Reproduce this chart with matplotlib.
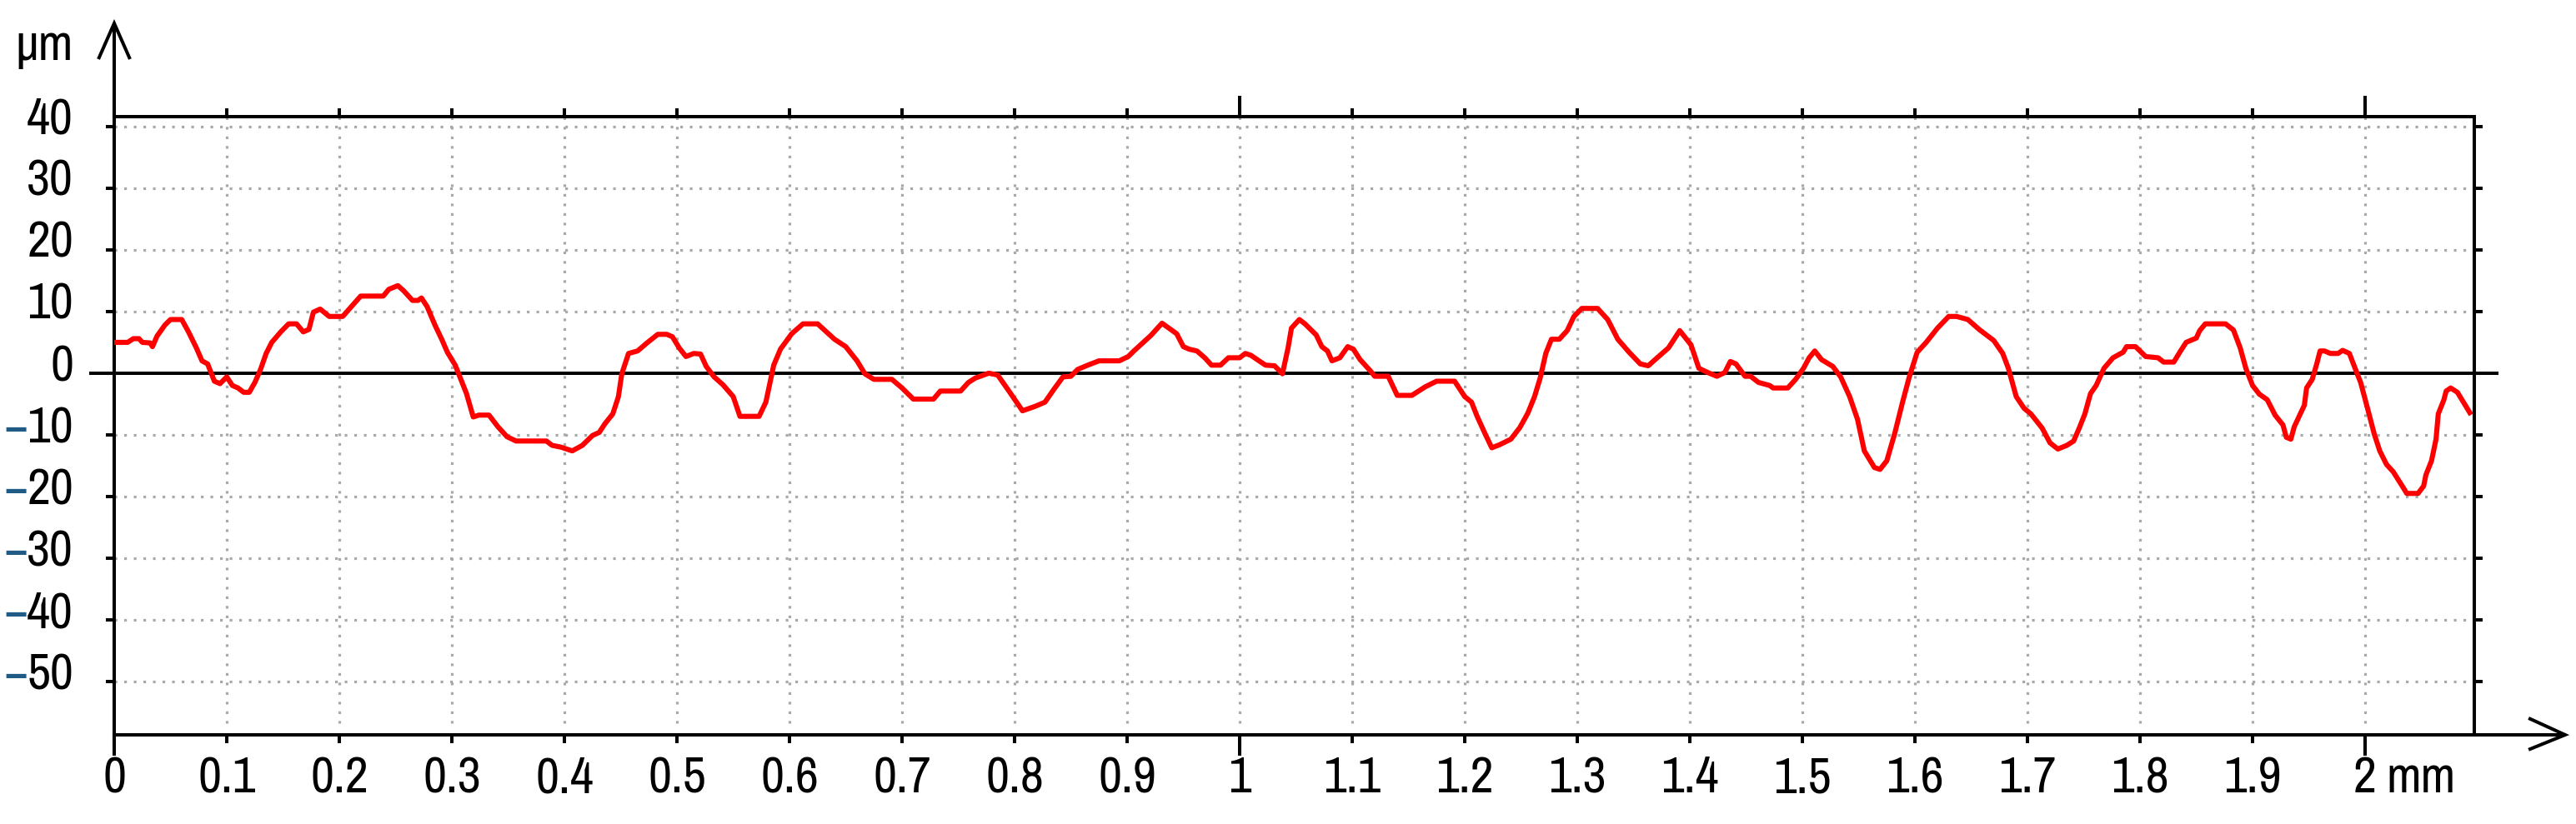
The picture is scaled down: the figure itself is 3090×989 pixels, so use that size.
import matplotlib
matplotlib.use("Agg")
import matplotlib.pyplot as plt
from matplotlib import font_manager
from matplotlib.transforms import blended_transform_factory

# surface profile (x in mm, z in µm)
x_mm = [0.000, 0.012, 0.017, 0.022, 0.025, 0.032, 0.034, 0.038, 0.045, 0.050,
        0.060, 0.066, 0.073, 0.078, 0.083, 0.089, 0.094, 0.100, 0.105, 0.110,
        0.115, 0.120, 0.125, 0.130, 0.135, 0.140, 0.148, 0.155, 0.162, 0.168,
        0.173, 0.177, 0.183, 0.191, 0.203, 0.219, 0.239, 0.244, 0.252, 0.257,
        0.265, 0.270, 0.273, 0.278, 0.285, 0.291, 0.296, 0.303, 0.308, 0.313,
        0.319, 0.324, 0.333, 0.341, 0.349, 0.357, 0.384, 0.389, 0.397, 0.407,
        0.416, 0.425, 0.431, 0.436, 0.443, 0.448, 0.451, 0.457, 0.465, 0.474,
        0.483, 0.491, 0.496, 0.502, 0.508, 0.515, 0.521, 0.526, 0.533, 0.541,
        0.550, 0.556, 0.573, 0.579, 0.586, 0.592, 0.602, 0.612, 0.625, 0.640,
        0.650, 0.660, 0.667, 0.675, 0.691, 0.700, 0.710, 0.728, 0.734, 0.752,
        0.759, 0.765, 0.777, 0.785, 0.795, 0.807, 0.818, 0.827, 0.835, 0.843,
        0.850, 0.856, 0.865, 0.875, 0.893, 0.901, 0.906, 0.921, 0.931, 0.944,
        0.950, 0.955, 0.962, 0.969, 0.975, 0.983, 0.990, 1.000, 1.005, 1.010,
        1.018, 1.023, 1.031, 1.038, 1.043, 1.046, 1.053, 1.058, 1.068, 1.073,
        1.078, 1.082, 1.089, 1.096, 1.101, 1.107, 1.116, 1.120, 1.132, 1.140,
        1.153, 1.165, 1.175, 1.191, 1.200, 1.206, 1.211, 1.218, 1.224, 1.231,
        1.241, 1.249, 1.256, 1.262, 1.267, 1.272, 1.277, 1.284, 1.291, 1.297,
        1.304, 1.318, 1.327, 1.336, 1.346, 1.356, 1.363, 1.371, 1.381, 1.391,
        1.401, 1.408, 1.416, 1.424, 1.431, 1.436, 1.441, 1.449, 1.454, 1.461,
        1.471, 1.474, 1.487, 1.494, 1.501, 1.506, 1.511, 1.517, 1.527, 1.534,
        1.542, 1.549, 1.555, 1.564, 1.569, 1.575, 1.582, 1.589, 1.595, 1.602,
        1.610, 1.620, 1.630, 1.637, 1.647, 1.657, 1.670, 1.678, 1.683, 1.690,
        1.697, 1.703, 1.713, 1.720, 1.727, 1.735, 1.741, 1.746, 1.751, 1.756,
        1.761, 1.768, 1.776, 1.785, 1.788, 1.796, 1.805, 1.816, 1.821, 1.830,
        1.836, 1.841, 1.850, 1.853, 1.858, 1.876, 1.883, 1.889, 1.894, 1.900,
        1.906, 1.913, 1.920, 1.927, 1.930, 1.934, 1.937, 1.946, 1.948, 1.953,
        1.957, 1.960, 1.964, 1.969, 1.976, 1.980, 1.986, 1.990, 1.996, 2.002,
        2.008, 2.013, 2.019, 2.025, 2.034, 2.037, 2.047, 2.052, 2.054, 2.059,
        2.063, 2.065, 2.070, 2.072, 2.076, 2.082, 2.086, 2.093]
z_um = [5.0, 5.0, 5.6, 5.6, 5.0, 4.9, 4.3, 6.0, 7.8, 8.7,
        8.7, 6.7, 4.1, 2.0, 1.5, -1.3, -1.7, -0.6, -2.0, -2.4,
        -3.1, -3.1, -1.5, 0.6, 3.2, 5.0, 6.7, 8.0, 8.0, 6.7,
        7.1, 9.9, 10.4, 9.2, 9.2, 12.5, 12.5, 13.6, 14.2, 13.4,
        11.8, 11.8, 12.2, 10.8, 7.8, 5.5, 3.4, 1.3, -1.0, -3.3,
        -7.1, -6.8, -6.8, -8.7, -10.3, -11.0, -11.0, -11.7, -12.0, -12.6,
        -11.7, -10.1, -9.6, -8.2, -6.6, -3.8, -0.1, 3.2, 3.6, 5.0,
        6.3, 6.3, 5.9, 4.1, 2.7, 3.2, 3.1, 1.1, -0.6, -1.9,
        -3.8, -7.0, -7.0, -4.7, 1.3, 3.9, 6.4, 8.0, 8.0, 5.5,
        4.3, 2.0, -0.1, -1.0, -1.0, -2.4, -4.2, -4.2, -2.9, -2.9,
        -1.5, -0.8, 0.0, -0.3, -2.9, -6.1, -5.4, -4.7, -2.6, -0.6,
        -0.5, 0.6, 1.3, 2.0, 2.0, 2.7, 3.6, 6.1, 8.1, 6.4,
        4.3, 3.9, 3.6, 2.5, 1.3, 1.3, 2.5, 2.5, 3.2, 2.9,
        1.9, 1.3, 1.2, -0.1, 4.1, 7.3, 8.7, 8.0, 6.2, 4.3,
        3.6, 2.0, 2.5, 4.3, 3.9, 2.2, 0.4, -0.5, -0.5, -3.6,
        -3.6, -2.2, -1.3, -1.3, -3.8, -4.7, -7.0, -9.8, -12.1, -11.6,
        -10.7, -8.8, -6.5, -3.8, -0.8, 3.2, 5.5, 5.5, 6.9, 9.2,
        10.5, 10.5, 8.7, 5.5, 3.4, 1.5, 1.2, 2.5, 4.1, 6.9,
        4.6, 0.8, 0.1, -0.5, 0.1, 1.9, 1.5, -0.5, -0.5, -1.5,
        -2.0, -2.4, -2.4, -1.0, 0.8, 2.5, 3.6, 2.2, 1.1, -0.6,
        -3.8, -7.5, -12.6, -15.3, -15.6, -14.2, -9.8, -4.7, -0.6, 3.4,
        5.0, 7.3, 9.2, 9.2, 8.7, 7.1, 5.3, 3.2, 0.8, -3.8,
        -5.7, -6.6, -8.9, -11.3, -12.3, -11.7, -11.0, -8.9, -6.6, -3.3,
        -2.0, 0.8, 2.5, 3.4, 4.3, 4.3, 2.7, 2.5, 1.8, 1.8,
        3.6, 5.0, 5.7, 6.9, 8.0, 8.0, 7.0, 4.1, 0.8, -2.0,
        -3.4, -4.3, -6.8, -8.4, -10.4, -10.7, -8.7, -5.2, -2.4, -1.0,
        1.5, 3.6, 3.6, 3.2, 3.2, 3.7, 3.2, 1.3, -1.5, -5.6,
        -9.8, -12.6, -14.8, -16.0, -18.6, -19.5, -19.5, -18.3, -16.5, -14.2,
        -10.7, -6.6, -4.3, -2.9, -2.4, -3.1, -4.3, -6.4]

x_ticks = [0, 0.1, 0.2, 0.3, 0.4, 0.5, 0.6, 0.7, 0.8, 0.9, 1.0,
           1.1, 1.2, 1.3, 1.4, 1.5, 1.6, 1.7, 1.8, 1.9, 2.0]
x_labels = ['0', '0.1', '0.2', '0.3', '0.4', '0.5', '0.6', '0.7', '0.8', '0.9', '1',
            '1.1', '1.2', '1.3', '1.4', '1.5', '1.6', '1.7', '1.8', '1.9', '2']
x_major = [0, 1, 2]
y_ticks = [40, 30, 20, 10, 0, -10, -20, -30, -40, -50]

# narrow sans, like the Arial Narrow of the original
names = {f.name for f in font_manager.fontManager.ttflist}
font = 'Liberation Sans'
for cand in ['Arial Narrow', 'Liberation Sans Narrow', 'Archivo Narrow', 'Roboto Condensed',
             'PT Sans Narrow', 'Pragati Narrow']:
    if cand in names:
        font = cand
        break
plt.rcParams['font.family'] = [font, 'DejaVu Sans']

fs = 44
lw = 2.9
minus_blue = '#1f5b85'

fig = plt.figure(figsize=(30.9, 9.89), dpi=100)
ax = fig.add_axes([137 / 3090, 1 - 882 / 989, 2831 / 3090, 742 / 989])
ax.set_xlim(0, 2.097)
ax.set_ylim(-58.65, 41.6)

# dotted grid
grid_style = dict(colors='#a9a9a9', linestyles=[(0, (1.0, 2.6))], linewidth=2.3, zorder=1)
ax.vlines(x_ticks[1:], -56.8, 41.6, **grid_style)
ax.hlines([v for v in y_ticks if v != 0], 0, 2.097, **grid_style)

# zero line, a bit longer than the frame
ytr = ax.get_yaxis_transform()
ax.plot([-0.0106, 1.0103], [0, 0], transform=ytr, color='black', lw=lw,
        clip_on=False, solid_capstyle='butt', zorder=2)

ax.plot(x_mm, z_um, color='#ff0000', lw=4.4, zorder=3)

for s in ax.spines.values():
    s.set_linewidth(lw)
    s.set_color('black')

ax.set_xticks(x_ticks)
ax.set_xticklabels(x_labels)
ax.set_xticks(x_major, minor=True)
ax.xaxis.remove_overlapping_locs = False
ax.tick_params(axis='x', which='major', direction='out', length=7.2, width=lw,
               top=True, bottom=True, labelsize=fs, pad=11)
ax.tick_params(axis='x', which='minor', direction='out', length=18, width=lw,
               top=True, bottom=True)
ax.set_yticks(y_ticks)
ax.tick_params(axis='y', which='major', direction='out', length=7.2, width=lw,
               left=True, right=True, labelleft=False)

# y labels with blue minus signs
lbl_tr = blended_transform_factory(ax.transAxes, ax.transData)
for v in y_ticks:
    t = ax.text(-0.0173, v + 1.0, str(abs(v)), transform=lbl_tr, ha='right',
                va='center', fontsize=fs)
    if v < 0:
        ax.annotate('\u2212', xy=(0.03, 0.5), xycoords=t, ha='right', va='center',
                    fontsize=fs, color=minus_blue)

# axis arrows
arrow = dict(color='black', lw=lw, clip_on=False, transform=ax.transAxes,
             solid_joinstyle='miter', solid_capstyle='butt')
ax.plot([0, 0], [1, 1.151], **arrow)
ax.plot([-0.0067, 0, 0.0067], [1.093, 1.151, 1.093], **arrow)
ax.plot([1, 1.0385], [0, 0], **arrow)
ax.plot([1.023, 1.0385, 1.023], [0.027, 0, -0.024], **arrow)

ax.text(-0.0173, 1.0916, '\u00b5m', transform=ax.transAxes, ha='right',
        va='baseline', fontsize=fs)
ax.annotate('mm', xy=(2.0, 0), xycoords=('data', 'axes fraction'),
            xytext=(25, -25.3), textcoords='offset pixels', ha='left', va='top',
            fontsize=fs)

fig.savefig('out.png', dpi=100)
